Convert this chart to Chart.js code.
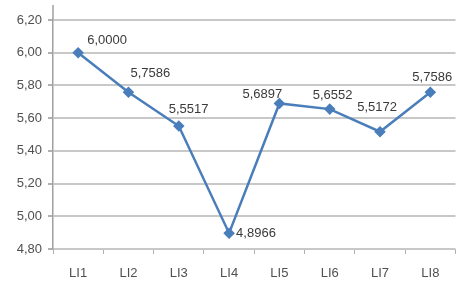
<!DOCTYPE html>
<html>
<head>
<meta charset="utf-8">
<script src="https://cdn.jsdelivr.net/npm/chart.js@4/dist/chart.umd.min.js"></script>
<style>
  html, body { margin: 0; padding: 0; background: #fff; }
  #wrap { width: 462px; height: 285px; }
</style>
</head>
<body>
<div id="wrap"><canvas id="myChart" width="462" height="285"></canvas></div>
<script>
const categories = ['LI1', 'LI2', 'LI3', 'LI4', 'LI5', 'LI6', 'LI7', 'LI8'];
const values = [6.0000, 5.7586, 5.5517, 4.8966, 5.6897, 5.6552, 5.5172, 5.7586];
const yTicks = [4.80, 5.00, 5.20, 5.40, 5.60, 5.80, 6.00, 6.20];

const fmt = (v, d) => v.toFixed(d).replace('.', ',');
const fontFam = '"Liberation Sans", Arial, sans-serif';

// value labels, nudged per point like the original
const labelOffsets = [
    [9, -12, 'left'], [2, -19, 'left'], [-10, -17, 'left'], [7, 0, 'left'],
    [-37, -9, 'left'], [-17, -14, 'left'], [-3, -24, 'center'], [-18, -15, 'left']
];

const valueLabels = {
    id: 'valueLabels',
    afterDatasetsDraw(chart) {
        const ctx = chart.ctx;
        const meta = chart.getDatasetMeta(0);
        ctx.save();
        ctx.font = '13px ' + fontFam;
        ctx.fillStyle = '#3a3a3a';
        ctx.textBaseline = 'middle';
        meta.data.forEach((pt, i) => {
            const o = labelOffsets[i];
            ctx.textAlign = o[2];
            ctx.fillText(fmt(values[i], 4), pt.x + o[0], pt.y + o[1]);
        });
        ctx.restore();
    }
};

// the value axis line runs a little above the top gridline
const axisTop = {
    id: 'axisTop',
    beforeDatasetsDraw(chart) {
        const ctx = chart.ctx;
        const a = chart.chartArea;
        ctx.save();
        ctx.strokeStyle = '#a0a0a0';
        ctx.lineWidth = 1.5;
        ctx.beginPath();
        ctx.moveTo(a.left, a.top);
        ctx.lineTo(a.left, a.top - 15);
        ctx.stroke();
        ctx.restore();
    }
};

const config = {
    type: 'line',
    data: {
        labels: categories,
        datasets: [{
            data: values,
            borderColor: '#4a7ebb',
            backgroundColor: '#4a7ebb',
            borderWidth: 2.5,
            pointStyle: 'rectRot',
            pointRadius: 4,
            pointHoverRadius: 4,
            tension: 0,
            fill: false
        }]
    },
    options: {
        responsive: false,
        animation: false,
        layout: { padding: { top: 20, right: 1, left: 0, bottom: 0 } },
        plugins: { legend: { display: false }, tooltip: { enabled: false } },
        scales: {
            x: {
                offset: true,
                grid: { offset: true, drawOnChartArea: false, drawTicks: true, tickLength: 5, color: '#b0b0b0', lineWidth: 1 },
                border: { display: false },
                ticks: { color: '#505050', font: { size: 13, family: fontFam }, padding: 12 },
                afterFit: s => { s.height = 36; }
            },
            y: {
                min: 4.8,
                max: 6.2,
                afterBuildTicks: s => { s.ticks = yTicks.map(v => ({ value: v })); },
                grid: { color: '#c8c8c8', lineWidth: 2, drawTicks: true, tickLength: 5, tickColor: '#b0b0b0' },
                border: { color: '#a0a0a0', width: 1.5 },
                ticks: {
                    color: '#505050',
                    font: { size: 13, family: fontFam },
                    padding: 6,
                    callback: v => fmt(v, 2)
                },
                afterFit: s => { s.width = 53; }
            }
        }
    },
    plugins: [valueLabels, axisTop]
};

let myChart = new Chart(document.getElementById('myChart'), config);
</script>
</body>
</html>
